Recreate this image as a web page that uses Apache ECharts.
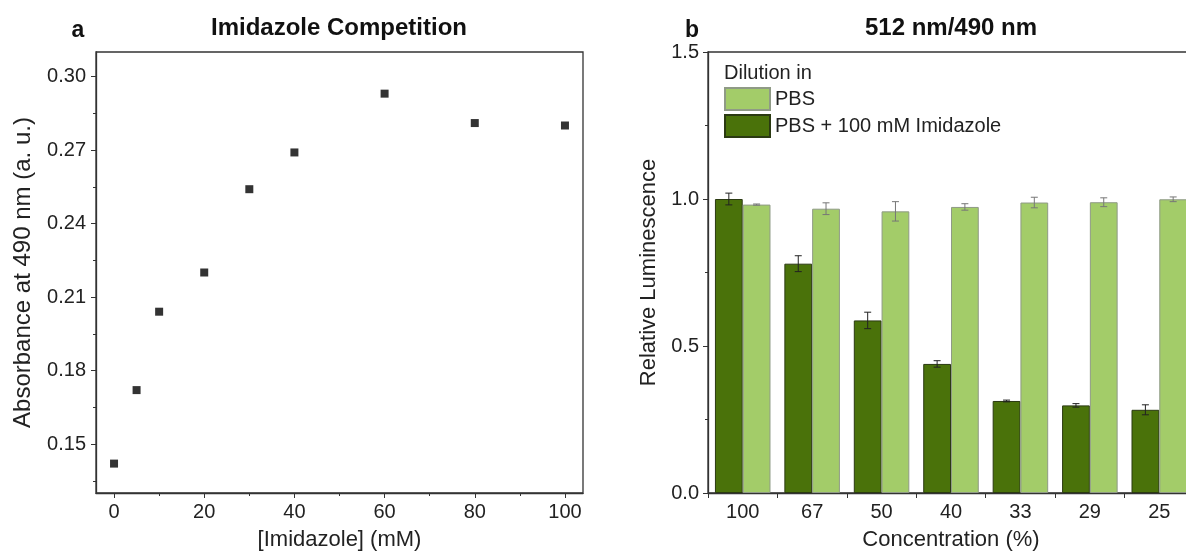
<!DOCTYPE html>
<html>
<head>
<meta charset="utf-8">
<script src="https://cdn.jsdelivr.net/npm/echarts@6/dist/echarts.min.js"></script>
<style>
html,body{margin:0;padding:0;background:#fff;}
#c{width:1186px;height:551px;}
</style>
</head>
<body>
<div id="c"></div>
<script>
// ---- Panel a data ----
const imidazoleConc = [0, 5, 10, 20, 30, 40, 60, 80, 100];
const absorbance = [0.142, 0.172, 0.204, 0.220, 0.254, 0.269, 0.293, 0.281, 0.280];
const aYTicks = [0.15, 0.18, 0.21, 0.24, 0.27, 0.30];
const aYMinor = [0.135, 0.165, 0.195, 0.225, 0.255, 0.285];
const aXTicks = [0, 20, 40, 60, 80, 100];
const aXMinor = [10, 30, 50, 70, 90];

// ---- Panel b data ----
const categories = ['100', '67', '50', '40', '33', '29', '25'];
const imidazoleVals = [1.000, 0.780, 0.587, 0.439, 0.313, 0.298, 0.283];
const imidazoleErr = [0.020, 0.027, 0.028, 0.011, 0.003, 0.006, 0.017];
const pbsVals = [0.981, 0.967, 0.958, 0.973, 0.988, 0.989, 0.999];
const pbsErr = [0.002, 0.020, 0.033, 0.011, 0.018, 0.015, 0.008];

const FONT = "'Liberation Sans', Arial, sans-serif";
const AX = '#333';
const DARK = '#4a720a';
const LIGHT = '#a3cc69';

const chart = echarts.init(document.getElementById('c'), null, {renderer: 'canvas'});

function errSeries(name, vals, errs, side, color) {
  return {
    type: 'custom', name: name + ' err', xAxisIndex: 2, yAxisIndex: 3, z: 5,
    silent: true,
    data: vals.map((v, i) => [i, v, errs[i]]),
    renderItem: function (params, api) {
      const i = api.value(0), v = api.value(1), e = api.value(2);
      const band = api.size([1, 0])[0];
      const off = side * band * 0.2;
      const t = api.coord([i, v + e]);
      const b = api.coord([i, v - e]);
      const x = t[0] + off;
      const h = 3.5;
      const st = {stroke: color, lineWidth: 1};
      return {type: 'group', children: [
        {type: 'line', shape: {x1: x, y1: t[1], x2: x, y2: b[1]}, style: st},
        {type: 'line', shape: {x1: x - h, y1: t[1], x2: x + h, y2: t[1]}, style: st},
        {type: 'line', shape: {x1: x - h, y1: b[1], x2: x + h, y2: b[1]}, style: st}
      ]};
    }
  };
}

const option = {
  animation: false,
  textStyle: {fontFamily: FONT},
  grid: [
    {left: 96, top: 52, width: 487, height: 441, show: true, borderColor: AX, borderWidth: 1.3,
      backgroundColor: 'transparent', outerBoundsMode: 'none', containLabel: false},
    {left: 708, top: 52, width: 486, height: 441, show: true, borderColor: AX, borderWidth: 1.3,
      backgroundColor: 'transparent', outerBoundsMode: 'none', containLabel: false}
  ],
  legend: {
    left: 719, top: 82, orient: 'vertical', itemWidth: 45, itemHeight: 22, itemGap: 3,
    icon: 'rect',
    data: ['PBS', 'PBS + 100 mM Imidazole'],
    textStyle: {fontSize: 20, color: '#222', fontFamily: FONT},
    selectedMode: false
  },
  xAxis: [
    {gridIndex: 0, type: 'value', min: -4, max: 104,
      name: '[Imidazole] (mM)', nameLocation: 'middle', nameGap: 36,
      nameTextStyle: {fontSize: 22, color: '#222'},
      axisLine: {show: true, onZero: false, lineStyle: {color: AX, width: 1.3}},
      axisTick: {show: true, inside: false, length: 5, customValues: aXTicks, lineStyle: {color: AX}},
      axisLabel: {customValues: aXTicks, fontSize: 20, color: '#222', margin: 9},
      splitLine: {show: false}},
    {gridIndex: 0, type: 'value', min: -4, max: 104, position: 'bottom',
      axisLine: {show: false, onZero: false},
      axisTick: {show: true, length: 3, customValues: aXMinor, lineStyle: {color: AX}},
      axisLabel: {show: false}, splitLine: {show: false}},
    {gridIndex: 1, type: 'category', data: categories,
      name: 'Concentration (%)', nameLocation: 'middle', nameGap: 36,
      nameTextStyle: {fontSize: 22, color: '#222'},
      axisLine: {show: true, onZero: false, lineStyle: {color: AX, width: 1.3}},
      axisTick: {show: true, length: 5, lineStyle: {color: AX}},
      axisLabel: {fontSize: 20, color: '#222', margin: 9},
      splitLine: {show: false}}
  ],
  yAxis: [
    {gridIndex: 0, type: 'value', min: 0.13, max: 0.31,
      name: 'Absorbance at 490 nm (a. u.)', nameLocation: 'middle', nameGap: 61,
      nameTextStyle: {fontSize: 24, color: '#222'},
      axisLine: {show: true, onZero: false, lineStyle: {color: AX, width: 1.3}},
      axisTick: {show: true, length: 5, customValues: aYTicks, lineStyle: {color: AX}},
      axisLabel: {customValues: aYTicks, fontSize: 20, color: '#222', margin: 10,
        formatter: v => Number(v).toFixed(2)},
      splitLine: {show: false}},
    {gridIndex: 0, type: 'value', min: 0.13, max: 0.31, position: 'left',
      axisLine: {show: false, onZero: false},
      axisTick: {show: true, length: 3, customValues: aYMinor, lineStyle: {color: AX}},
      axisLabel: {show: false}, splitLine: {show: false}},
    {gridIndex: 1, type: 'value', min: 0, max: 1.5, interval: 0.5,
      name: 'Relative Luminescence', nameLocation: 'middle', nameGap: 48,
      nameTextStyle: {fontSize: 22, color: '#222'},
      axisLine: {show: true, onZero: false, lineStyle: {color: AX, width: 1.3}},
      axisTick: {show: true, length: 5, lineStyle: {color: AX}},
      minorTick: {show: true, splitNumber: 2, length: 3, lineStyle: {color: AX}},
      axisLabel: {fontSize: 20, color: '#222', margin: 9, formatter: v => Number(v).toFixed(1)},
      splitLine: {show: false}},
    {gridIndex: 1, type: 'value', min: 0, max: 1.5, show: false}
  ],
  graphic: [
    {type: 'text', style: {x: 78, y: 31, text: 'a', font: "bold 23px " + FONT, fill: '#111', textAlign: 'center', textVerticalAlign: 'middle'}},
    {type: 'text', style: {x: 339, y: 28, text: 'Imidazole Competition', font: "bold 24px " + FONT, fill: '#111', textAlign: 'center', textVerticalAlign: 'middle'}},
    {type: 'text', style: {x: 692, y: 31, text: 'b', font: "bold 23px " + FONT, fill: '#111', textAlign: 'center', textVerticalAlign: 'middle'}},
    {type: 'text', style: {x: 951, y: 28, text: '512 nm/490 nm', font: "bold 24px " + FONT, fill: '#111', textAlign: 'center', textVerticalAlign: 'middle'}},
    {type: 'text', style: {x: 724, y: 73, text: 'Dilution in', font: "20px " + FONT, fill: '#222', textAlign: 'left', textVerticalAlign: 'middle'}}
  ],
  series: [
    {type: 'scatter', name: 'Absorbance', xAxisIndex: 0, yAxisIndex: 0,
      symbol: 'rect', symbolSize: 8, itemStyle: {color: '#000'},
      data: imidazoleConc.map((x, i) => [x, absorbance[i]])},
    {type: 'bar', name: 'PBS + 100 mM Imidazole', xAxisIndex: 2, yAxisIndex: 2,
      barGap: '0%', barCategoryGap: '20%',
      itemStyle: {color: DARK, borderColor: '#2b3a12', borderWidth: 1},
      data: imidazoleVals},
    {type: 'bar', name: 'PBS', xAxisIndex: 2, yAxisIndex: 2,
      barGap: '0%', barCategoryGap: '20%',
      itemStyle: {color: LIGHT, borderColor: '#8f9a86', borderWidth: 1},
      data: pbsVals},
    errSeries('imid', imidazoleVals, imidazoleErr, -1, '#222'),
    errSeries('pbs', pbsVals, pbsErr, 1, '#777')
  ]
};
chart.setOption(option);
</script>
</body>
</html>
